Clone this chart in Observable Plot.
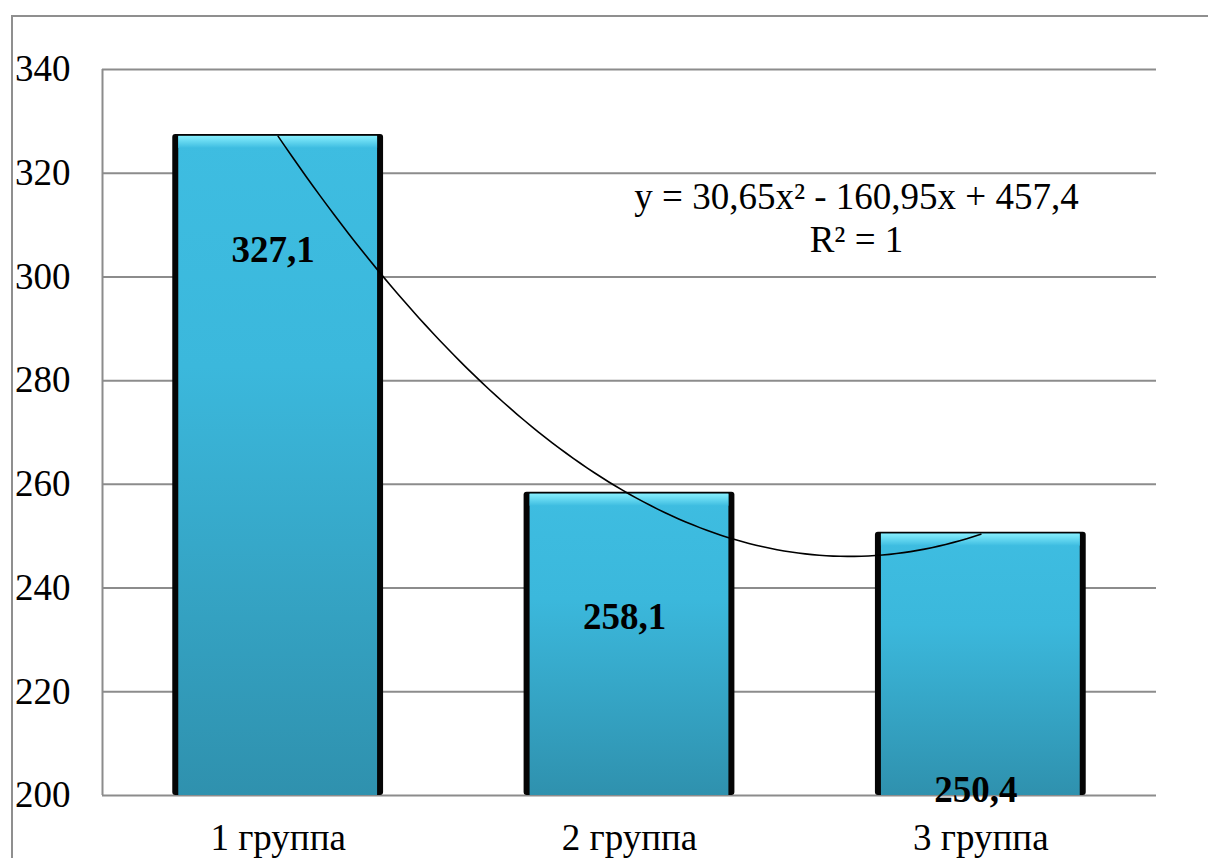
<!DOCTYPE html>
<html>
<head>
<meta charset="utf-8">
<script src="https://cdn.jsdelivr.net/npm/d3@7"></script>
<script src="https://cdn.jsdelivr.net/npm/@observablehq/plot@0.6"></script>
<style>
  html, body { margin: 0; padding: 0; background: #fff; }
  #wrap { position: relative; width: 1208px; height: 858px; overflow: hidden; }
  #frame { position: absolute; left: 11px; top: 15px; width: 1300px; height: 900px;
           border-top: 2px solid #8f8f8f; border-left: 2px solid #8f8f8f; }
  #chart { position: absolute; left: 0; top: 0; }
  #chart svg, #chart svg text { font-family: "Liberation Serif", "Times New Roman", "DejaVu Serif", serif !important; }
</style>
</head>
<body>
<div id="wrap"><div id="frame"></div><div id="chart"></div></div>
<script>
// Groups and their mean values
const groups = ["1 группа", "2 группа", "3 группа"];
const values = [327.1, 258.1, 250.4];
const valueLabels = ["327,1", "258,1", "250,4"];
const yTicks = [200, 220, 240, 260, 280, 300, 320, 340];

// Second-order polynomial trend: y = a·x² + b·x + c
const trendCoef = [30.65, -160.95, 457.4];
const trendLabel = ["y = 30,65x² - 160,95x + 457,4", "R² = 1"];

const yMin = 200, yMax = 340;
const halfWidth = 0.3; // bar half-width, in group units

const rows = groups.map((g, i) => ({pos: i + 1, group: g, value: values[i], label: valueLabels[i]}));

// Heights at which the value labels sit inside the bars
const labelY = [305.1, 234.3, 201.0];

// Trend curve sampled between the first and last group
const [a, b, c] = trendCoef;
const trend = d3.range(1, 3.0001, 0.02).map(x => ({x, y: a * x * x + b * x + c}));

const x1 = d => d.pos - halfWidth;
const x2 = d => d.pos + halfWidth;

const chart = Plot.plot({
  width: 1208,
  height: 858,
  marginLeft: 102,
  marginRight: 52,
  marginTop: 69,
  marginBottom: 63,
  style: {
    fontFamily: '"Liberation Serif", "Times New Roman", serif',
    fontSize: "37px",
    color: "#000",
    background: "transparent",
    overflow: "visible"
  },
  x: {domain: [0.5, 3.5], ticks: [1, 2, 3], tickFormat: i => groups[i - 1], tickSize: 0, tickPadding: 28, label: null},
  y: {domain: [yMin, yMax], ticks: yTicks, tickSize: 0, tickPadding: 32, label: null},
  marks: [
    Plot.ruleY(yTicks, {stroke: "#8c8c8c", strokeWidth: 2}),
    Plot.ruleX([0.5], {stroke: "#8c8c8c", strokeWidth: 2}),
    // dark bar shell (side edges and top line)
    Plot.rectY(rows, {x1, x2, y1: yMin, y2: "value", fill: "#050505", rx: 3, insetTop: -2}),
    // bar body
    Plot.rectY(rows, {x1, x2, y1: yMin, y2: "value", insetLeft: 6, insetRight: 6, insetTop: 0, fill: "url(#barBody)"}),
    // light bevel along the top
    Plot.rectY(rows, {x1, x2, y1: "value", y2: "value", insetLeft: 6, insetRight: 6, insetTop: 0, insetBottom: -12, fill: "url(#barCap)"}),
    // trend curve
    Plot.line(trend, {x: "x", y: "y", stroke: "#000", strokeWidth: 1.6}),
    // value labels
    Plot.text(rows, {x: "pos", y: (d, i) => labelY[i], text: "label", fontWeight: "bold", dx: -5}),
    // trend equation
    Plot.text([trendLabel.join("\n")], {frameAnchor: "top", lineAnchor: "middle", dx: 227, dy: 147.5, lineHeight: 1.17})
  ]
});

// Gradients for the bars
const defs = d3.select(chart).insert("defs", ":first-child");
const body = defs.append("linearGradient").attr("id", "barBody").attr("x1", 0).attr("y1", 0).attr("x2", 0).attr("y2", 1);
body.append("stop").attr("offset", "0%").attr("stop-color", "#3ebde1");
body.append("stop").attr("offset", "35%").attr("stop-color", "#3bb8dc");
body.append("stop").attr("offset", "100%").attr("stop-color", "#2f91ae");
const cap = defs.append("linearGradient").attr("id", "barCap").attr("x1", 0).attr("y1", 0).attr("x2", 0).attr("y2", 1);
cap.append("stop").attr("offset", "0%").attr("stop-color", "#86eefd");
cap.append("stop").attr("offset", "100%").attr("stop-color", "#3ebde1");

document.getElementById("chart").appendChild(chart);
</script>
</body>
</html>
